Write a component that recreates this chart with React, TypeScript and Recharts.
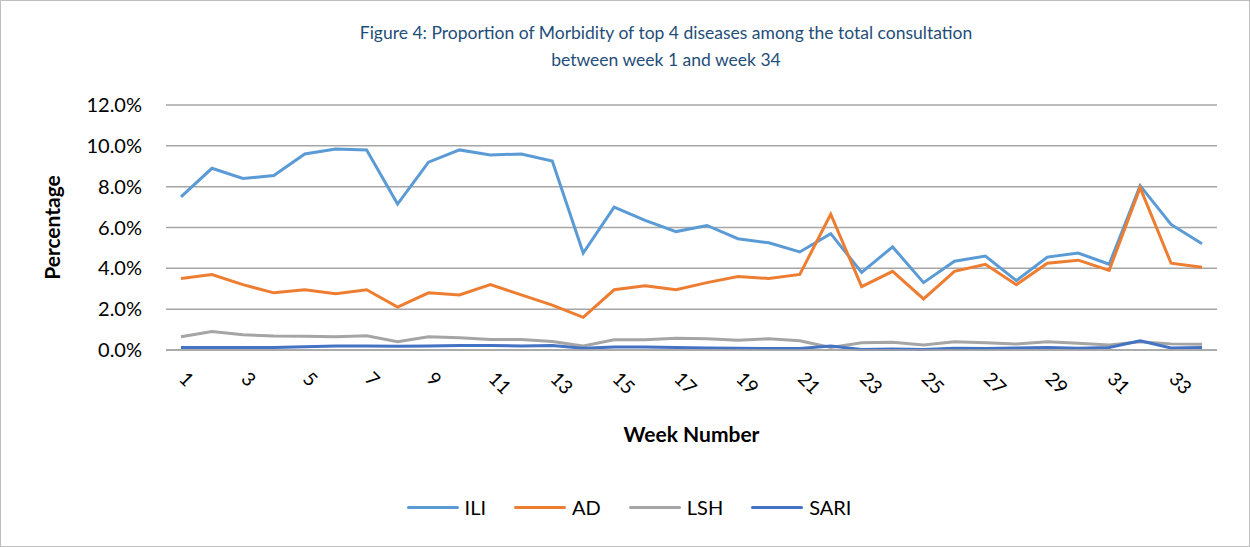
import React from 'react';
import { LineChart, Line, XAxis, YAxis, CartesianGrid, Legend } from 'recharts';

const weeks = Array.from({ length: 34 }, (_, i) => String(i + 1));

const ili = [7.5, 8.9, 8.4, 8.55, 9.6, 9.85, 9.8, 7.15, 9.2, 9.8, 9.55, 9.6, 9.25, 4.75, 7.0, 6.35, 5.8, 6.1, 5.45, 5.25, 4.8, 5.7, 3.8, 5.05, 3.3, 4.35, 4.6, 3.4, 4.55, 4.75, 4.2, 8.05, 6.15, 5.2];
const ad = [3.5, 3.7, 3.2, 2.8, 2.95, 2.75, 2.95, 2.1, 2.8, 2.7, 3.2, 2.7, 2.2, 1.6, 2.95, 3.15, 2.95, 3.3, 3.6, 3.5, 3.7, 6.65, 3.1, 3.85, 2.5, 3.85, 4.2, 3.2, 4.25, 4.4, 3.9, 7.95, 4.25, 4.05];
const lsh = [0.65, 0.9, 0.75, 0.68, 0.67, 0.65, 0.7, 0.4, 0.65, 0.6, 0.52, 0.52, 0.42, 0.2, 0.5, 0.5, 0.57, 0.55, 0.48, 0.55, 0.45, 0.12, 0.35, 0.38, 0.25, 0.4, 0.35, 0.3, 0.4, 0.33, 0.25, 0.4, 0.3, 0.28];
const sari = [0.12, 0.12, 0.12, 0.12, 0.16, 0.2, 0.2, 0.18, 0.2, 0.22, 0.22, 0.2, 0.22, 0.08, 0.15, 0.15, 0.12, 0.1, 0.08, 0.07, 0.07, 0.2, 0.02, 0.05, 0.03, 0.08, 0.07, 0.1, 0.12, 0.08, 0.12, 0.45, 0.1, 0.12];

const yTicks = [0, 2, 4, 6, 8, 10, 12];

const data = weeks.map((w, i) => ({ week: w, ILI: ili[i], AD: ad[i], LSH: lsh[i], SARI: sari[i] }));

const series = [
  { key: 'ILI', color: '#5B9BD5' },
  { key: 'AD', color: '#ED7D31' },
  { key: 'LSH', color: '#A5A5A5' },
  { key: 'SARI', color: '#4472C4' },
];

const font = 'Lato, "Open Sans", sans-serif';

const WeekTick = (props: any) => {
  const { x, y, payload } = props;
  const tx = x - 3;
  const ty = y + 22;
  return (
    <text
      x={tx}
      y={ty}
      transform={`rotate(45, ${tx}, ${ty})`}
      textAnchor="start"
      fontSize={19}
      fontFamily={font}
      fill="#000"
    >
      {payload.value}
    </text>
  );
};

const LegendContent = () => (
  <div style={{ display: 'flex', justifyContent: 'center', fontFamily: font, fontSize: 20, color: '#000' }}>
    {series.map((s) => (
      <div key={s.key} style={{ display: 'flex', alignItems: 'center', marginRight: 28 }}>
        <div style={{ width: 52, height: 3, background: s.color, borderRadius: 2, marginRight: 6 }} />
        <span>{s.key}</span>
      </div>
    ))}
  </div>
);

export default function App() {
  return (
    <div
      style={{
        position: 'absolute',
        left: 0,
        top: 0,
        width: 1250,
        height: 547,
        border: '1px solid #BFBFBF',
        boxSizing: 'border-box',
        background: '#fff',
      }}
    >
      <div
        style={{
          position: 'absolute',
          top: 18,
          left: 0,
          width: 1330,
          textAlign: 'center',
          fontFamily: font,
          fontSize: 17.5,
          lineHeight: '27px',
          color: '#1F4E79',
        }}
      >
        Figure 4: Proportion of Morbidity of top 4 diseases among the total consultation
        <br />
        between week 1 and week 34
      </div>
      <LineChart
        width={1248}
        height={545}
        data={data}
        margin={{ top: 104, right: 32, left: 0, bottom: 0 }}
      >
        <CartesianGrid horizontal vertical={false} stroke="#A6A6A6" strokeWidth={1.5} />
        <XAxis
          dataKey="week"
          interval={1}
          padding={{ left: 15, right: 15 }}
          tick={<WeekTick />}
          tickLine={false}
          axisLine={{ stroke: '#A6A6A6', strokeWidth: 1.5 }}
          height={196}
          label={{
            value: 'Week Number',
            position: 'insideTop',
            offset: 77,
            style: { fontFamily: font, fontSize: 21, fontWeight: 'bold', fill: '#000' },
          }}
        />
        <YAxis
          domain={[0, 12]}
          ticks={yTicks}
          tickFormatter={(v: number) => `${v.toFixed(1)}%`}
          width={165}
          axisLine={false}
          tickLine={false}
          tickMargin={18}
          tick={{ fontFamily: font, fontSize: 20, fill: '#000' }}
          label={{
            value: 'Percentage',
            angle: -90,
            position: 'insideLeft',
            offset: 52,
            style: { fontFamily: font, fontSize: 21, fontWeight: 'bold', fill: '#000', textAnchor: 'middle' },
          }}
        />
        <Legend verticalAlign="middle" content={<LegendContent />} wrapperStyle={{ top: 494, left: 0, width: 1284 }} />
        {series.map((s) => (
          <Line
            key={s.key}
            type="linear"
            dataKey={s.key}
            stroke={s.color}
            strokeWidth={3}
            dot={false}
            isAnimationActive={false}
          />
        ))}
      </LineChart>
    </div>
  );
}
